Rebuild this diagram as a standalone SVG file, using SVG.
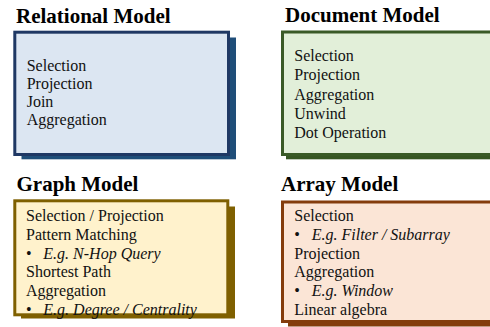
<svg xmlns="http://www.w3.org/2000/svg" width="490" height="327" viewBox="0 0 490 327">
  <style>
    .title { font-family: "Liberation Serif", Tinos, "Times New Roman", Times, "DejaVu Serif", serif; font-weight: bold; font-size: 21px; fill: #000; }
    .body { font-family: "Liberation Serif", Tinos, "Times New Roman", Times, "DejaVu Serif", serif; font-size: 16px; fill: #111; }
    .it { font-style: italic; }
    .box { stroke-width: 3; }
  </style>
  <rect width="490" height="327" fill="#ffffff"/>

  <!-- Relational model -->
  <g id="relational">
    <text class="title" x="16" y="22.7">Relational Model</text>
    <rect x="21.5" y="37.5" width="214.5" height="121.8" fill="#1f4e79"/>
    <rect class="box" x="14.8" y="32.2" width="213.7" height="122.3" fill="#dce6f2" stroke="#1f3864"/>
    <text class="body" x="26.7" y="70.7">Selection</text>
    <text class="body" x="26.7" y="88.9">Projection</text>
    <text class="body" x="26.7" y="107.1">Join</text>
    <text class="body" x="26.7" y="125.3">Aggregation</text>
  </g>

  <!-- Document model -->
  <g id="document">
    <text class="title" x="285" y="21.7">Document Model</text>
    <rect x="286" y="37" width="214" height="122.3" fill="#375623"/>
    <rect class="box" x="282.5" y="32" width="220" height="122.5" fill="#e2efd9" stroke="#3a5a27"/>
    <text class="body" x="294.3" y="60.7">Selection</text>
    <text class="body" x="294.3" y="80.1">Projection</text>
    <text class="body" x="294.3" y="99.5">Aggregation</text>
    <text class="body" x="294.3" y="118.9">Unwind</text>
    <text class="body" x="294.3" y="138.3">Dot Operation</text>
  </g>

  <!-- Graph model -->
  <g id="graph">
    <text class="title" x="16.5" y="191">Graph Model</text>
    <rect x="21" y="206.5" width="214" height="112" fill="#7f6000"/>
    <rect class="box" x="14.8" y="200.8" width="213" height="114" fill="#fff2cc" stroke="#7f6000"/>
    <text class="body" x="26" y="221">Selection / Projection</text>
    <text class="body" x="26" y="239.8">Pattern Matching</text>
    <text class="body" x="26" y="258.6">•<tspan class="it" x="43.3">E.g. N-Hop Query</tspan></text>
    <text class="body" x="26" y="277.4">Shortest Path</text>
    <text class="body" x="26" y="296.2">Aggregation</text>
    <text class="body" x="26" y="315">•<tspan class="it" x="43.3">E.g. Degree / Centrality</tspan></text>
  </g>

  <!-- Array model -->
  <g id="array">
    <text class="title" x="281" y="191">Array Model</text>
    <rect x="288" y="208" width="212" height="118.5" fill="#843c0c"/>
    <rect class="box" x="282.5" y="202" width="220" height="119.5" fill="#fbe5d6" stroke="#843c0c"/>
    <text class="body" x="294.3" y="221">Selection</text>
    <text class="body" x="294.3" y="239.8">•<tspan class="it" x="311.7">E.g. Filter / Subarray</tspan></text>
    <text class="body" x="294.3" y="258.6">Projection</text>
    <text class="body" x="294.3" y="277.4">Aggregation</text>
    <text class="body" x="294.3" y="296.2">•<tspan class="it" x="311.7">E.g. Window</tspan></text>
    <text class="body" x="294.3" y="315">Linear algebra</text>
  </g>

  <g id="connectors"/>
</svg>
